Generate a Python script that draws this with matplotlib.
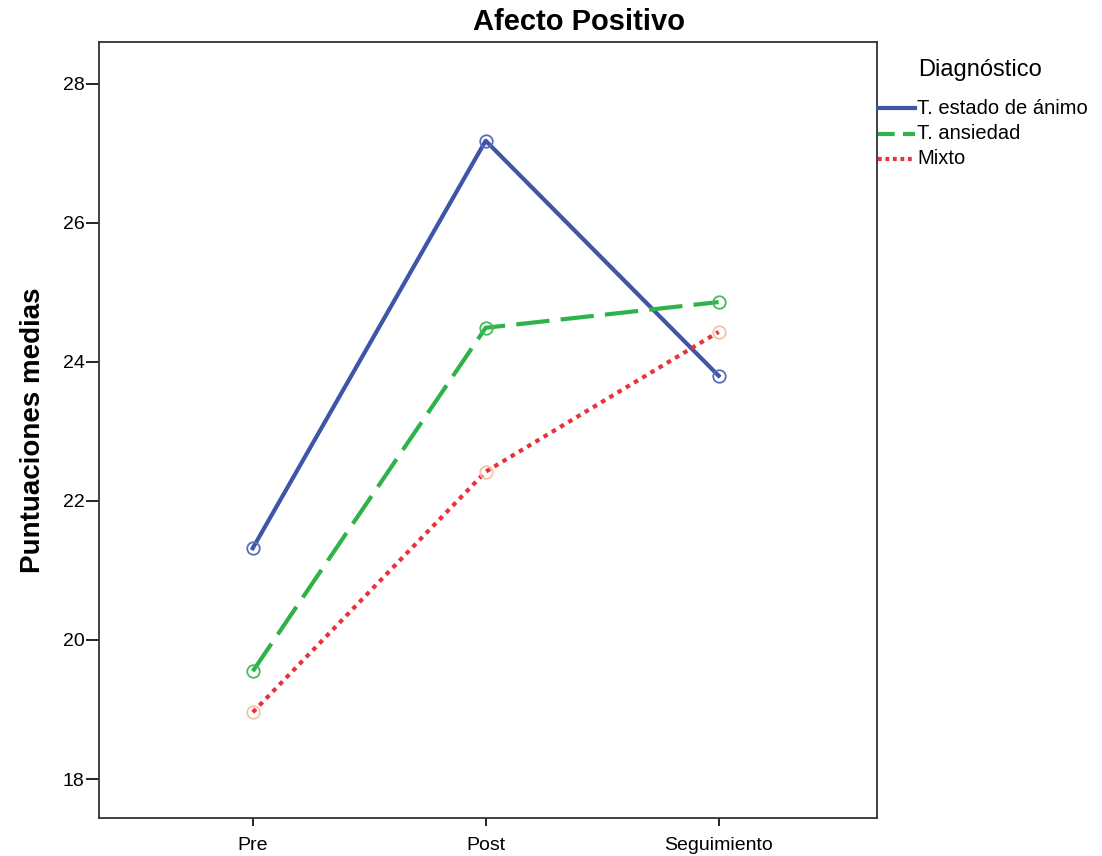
import numpy as np
import matplotlib.pyplot as plt
from matplotlib.lines import Line2D

plt.rcParams['font.family'] = ['Liberation Sans', 'DejaVu Sans']

# data
momentos = ['Pre', 'Post', 'Seguimiento']
animo = [21.32, 27.18, 23.80]
ansiedad = [19.55, 24.49, 24.86]
mixto = [18.96, 22.42, 24.43]
grupos = ['T. estado de ánimo', 'T. ansiedad', 'Mixto']

W, H = 1102, 856
fig = plt.figure(figsize=(W / 100, H / 100), dpi=100)
ax = fig.add_axes([99 / W, 1 - 818 / H, 778 / W, 776 / H])

x = np.arange(len(momentos))
colores = ['#3f55a8', '#2db34a', '#e8333a']
marcas = ['#5a6cc0', '#3fbf55', '#f5c2a8']
estilos = ['-', (0, (8, 2.7)), (0, (1.1, 1.2))]
series = [animo, ansiedad, mixto]

# lines first, then open circle markers on top
for y, c, ls in zip(series, colores, estilos):
    ax.plot(x, y, color=c, lw=3, ls=ls)
for y, mc in zip(series, marcas):
    ax.plot(x, y, 'o', ms=9, mfc='none', mec=mc, mew=1.3)

ax.set_xlim(-0.66, 2.68)
ax.set_ylim(17.44, 28.6)
ax.set_xticks(x)
ax.set_xticklabels(momentos)
ax.set_yticks([18, 20, 22, 24, 26, 28])
ax.tick_params(axis='y', labelsize=14, length=9.5, width=1.2, pad=1)
ax.tick_params(axis='x', labelsize=14, length=6, width=1.2, pad=8)
for s in ax.spines.values():
    s.set_linewidth(1.3)
    s.set_color('#333333')

ax.set_ylabel('Puntuaciones medias', fontsize=20, fontweight='bold', labelpad=12)
fig.text(579 / W, 1 - 22 / H, 'Afecto Positivo', ha='center', va='center',
         fontsize=21, fontweight='bold')

# legend drawn by hand so it sits where the original has it
fig.text(918 / W, 1 - 70 / H, 'Diagnóstico', ha='left', va='center', fontsize=17)
ley_estilos = ['-', (0, (4, 2)), (0, (0.9, 0.9))]
for i, (nombre, c, ls) in enumerate(zip(grupos, colores, ley_estilos)):
    yy = 1 - (108 + 25.5 * i) / H
    fig.add_artist(Line2D([878 / W, 915 / W], [yy, yy], transform=fig.transFigure,
                          color=c, lw=3, ls=ls))
    fig.text(917 / W, yy, nombre, ha='left', va='center', fontsize=14.5)

fig.savefig('out.png', dpi=100)
